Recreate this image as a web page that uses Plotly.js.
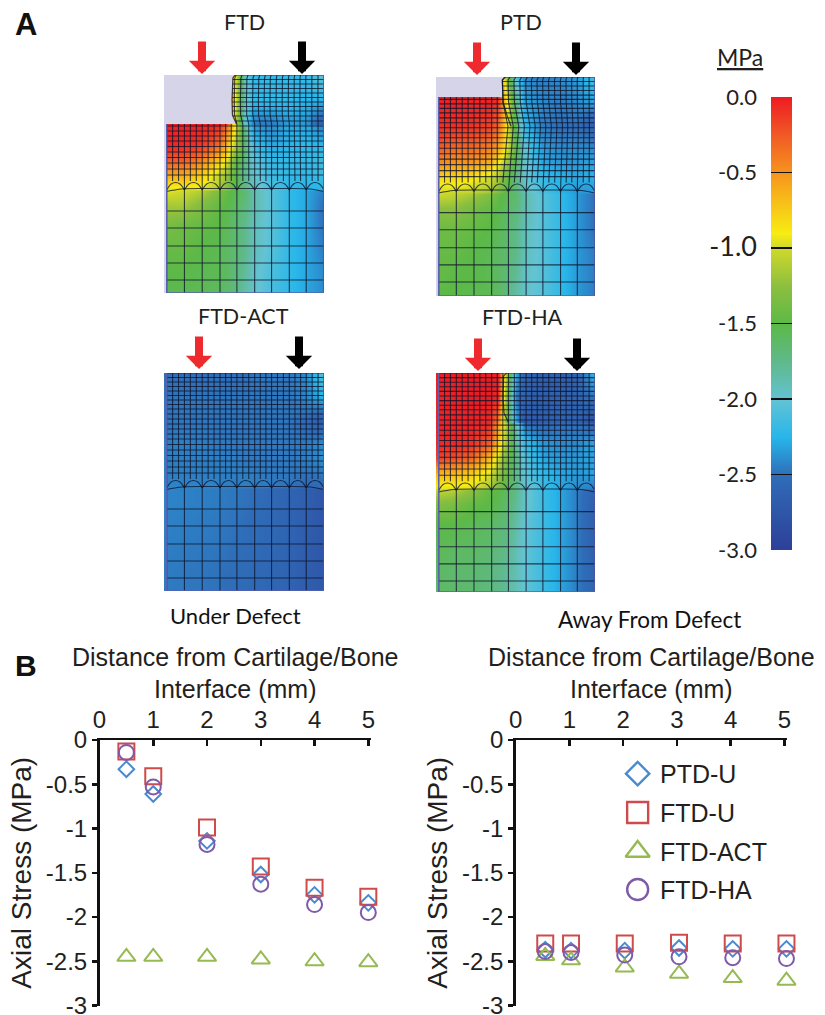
<!DOCTYPE html>
<html>
<head>
<meta charset="utf-8">
<script src="https://cdn.plot.ly/plotly-3.0.1.min.js"></script>
<style>html,body{margin:0;padding:0;background:#fff}#chart{width:825px;height:1015px}</style>
</head>
<body>
<div id="chart"></div>
<script>
// ---------- Panel B data ----------
const distLeft = [0.5, 1, 2, 3, 4, 5];
const distRight = [0.55, 1.03, 2.03, 3.04, 4.04, 5.04];
const ptdUnder = [-0.33, -0.61, -1.14, -1.52, -1.75, -1.84];
const ftdUnder = [-0.13, -0.41, -0.99, -1.43, -1.67, -1.77];
const actUnder = [-2.45, -2.45, -2.45, -2.48, -2.50, -2.51];
const haUnder = [-0.14, -0.53, -1.18, -1.63, -1.86, -1.95];
const ptdAway = [-2.37, -2.38, -2.38, -2.35, -2.36, -2.36];
const ftdAway = [-2.30, -2.30, -2.30, -2.29, -2.30, -2.30];
const actAway = [-2.44, -2.49, -2.57, -2.64, -2.69, -2.72];
const haAway = [-2.39, -2.40, -2.43, -2.45, -2.46, -2.47];
const seriesNames = ['PTD-U', 'FTD-U', 'FTD-ACT', 'FTD-HA'];
const legendY = [-0.38, -0.82, -1.26, -1.69];
const stressTicks = [0, -0.5, -1, -1.5, -2, -2.5, -3];
const stressLabels = ['0', '-0.5', '-1', '-1.5', '-2', '-2.5', '-3'];
const distTicks = [0, 1, 2, 3, 4, 5];

// ---------- Panel A stress fields (MPa), rows by depth, columns by lateral position ----------
const fieldX = [0.3, 2, 4, 6, 7, 8, 9, 10, 12, 14, 16, 18];
const fieldDepth = [0, 25, 49, 50, 70, 85, 100, 114, 116, 130, 150, 175, 200, 218];
const fieldFTD = [
  [0,0,0,0,0,-0.9,-1.9,-2.2,-2.2,-2.2,-2.2,-2.0],
  [0,0,0,0,0,-0.9,-1.85,-2.2,-2.2,-2.2,-2.25,-2.25],
  [-0.02,-0.02,-0.02,-0.03,-0.1,-1.0,-1.95,-2.45,-2.45,-2.35,-2.35,-2.7],
  [-0.02,-0.02,-0.02,-0.05,-0.3,-0.9,-1.7,-2.35,-2.4,-2.3,-2.3,-2.45],
  [-0.03,-0.05,-0.1,-0.3,-0.6,-1.1,-1.6,-2.15,-2.3,-2.25,-2.2,-2.25],
  [-0.25,-0.25,-0.4,-0.7,-0.9,-1.4,-1.7,-2.0,-2.2,-2.2,-2.2,-2.15],
  [-0.6,-0.6,-0.75,-1.0,-1.2,-1.5,-1.75,-1.95,-2.15,-2.2,-2.2,-2.15],
  [-0.95,-0.95,-0.95,-1.1,-1.3,-1.5,-1.7,-1.9,-2.1,-2.2,-2.25,-2.25],
  [-0.95,-1.0,-1.1,-1.3,-1.45,-1.55,-1.65,-1.85,-2.05,-2.2,-2.3,-2.45],
  [-1.15,-1.15,-1.3,-1.45,-1.5,-1.6,-1.7,-1.85,-2.05,-2.2,-2.3,-2.5],
  [-1.35,-1.4,-1.45,-1.5,-1.55,-1.65,-1.75,-1.9,-2.05,-2.2,-2.3,-2.5],
  [-1.45,-1.45,-1.5,-1.55,-1.6,-1.65,-1.75,-1.9,-2.05,-2.2,-2.3,-2.45],
  [-1.5,-1.5,-1.55,-1.55,-1.6,-1.7,-1.8,-1.95,-2.1,-2.2,-2.3,-2.4],
  [-1.55,-1.55,-1.55,-1.6,-1.65,-1.7,-1.85,-1.95,-2.1,-2.2,-2.3,-2.4]
];
const fieldPTD = [
  [0,0,0,0,0,-1.3,-2.1,-2.4,-2.45,-2.4,-2.35,-2.1],
  [-0.02,-0.02,-0.03,-0.03,-0.1,-0.9,-1.7,-2.3,-2.4,-2.45,-2.4,-2.3],
  [-0.08,-0.08,-0.1,-0.15,-0.3,-0.9,-1.6,-2.2,-2.45,-2.5,-2.5,-2.7],
  [-0.08,-0.08,-0.1,-0.15,-0.3,-0.9,-1.6,-2.2,-2.45,-2.5,-2.5,-2.6],
  [-0.25,-0.3,-0.3,-0.4,-0.55,-0.95,-1.5,-2.0,-2.35,-2.4,-2.4,-2.4],
  [-0.45,-0.5,-0.5,-0.6,-0.85,-1.2,-1.6,-1.95,-2.3,-2.35,-2.35,-2.3],
  [-0.8,-0.8,-0.85,-1.0,-1.15,-1.45,-1.7,-1.95,-2.2,-2.25,-2.3,-2.25],
  [-1.0,-1.0,-1.05,-1.15,-1.3,-1.5,-1.7,-1.9,-2.1,-2.25,-2.35,-2.35],
  [-1.0,-1.05,-1.15,-1.3,-1.45,-1.55,-1.65,-1.85,-2.05,-2.2,-2.35,-2.5],
  [-1.25,-1.25,-1.35,-1.45,-1.5,-1.6,-1.7,-1.85,-2.05,-2.2,-2.35,-2.5],
  [-1.4,-1.4,-1.45,-1.5,-1.55,-1.65,-1.75,-1.9,-2.05,-2.2,-2.35,-2.5],
  [-1.45,-1.45,-1.5,-1.55,-1.6,-1.65,-1.75,-1.9,-2.05,-2.2,-2.35,-2.45],
  [-1.45,-1.5,-1.5,-1.55,-1.6,-1.7,-1.8,-1.95,-2.05,-2.2,-2.35,-2.45],
  [-1.5,-1.5,-1.55,-1.55,-1.6,-1.7,-1.85,-1.95,-2.05,-2.2,-2.35,-2.45]
];
const fieldACT = [
  [-2.5,-2.5,-2.5,-2.5,-2.5,-2.5,-2.5,-2.47,-2.47,-2.47,-2.4,-2.05],
  [-2.47,-2.47,-2.47,-2.47,-2.47,-2.47,-2.47,-2.47,-2.47,-2.47,-2.42,-2.25],
  [-2.47,-2.47,-2.47,-2.47,-2.47,-2.47,-2.47,-2.47,-2.47,-2.47,-2.52,-2.72],
  [-2.47,-2.47,-2.47,-2.47,-2.47,-2.47,-2.47,-2.47,-2.47,-2.47,-2.52,-2.65],
  [-2.44,-2.44,-2.44,-2.46,-2.46,-2.46,-2.46,-2.46,-2.46,-2.46,-2.46,-2.38],
  [-2.44,-2.44,-2.44,-2.44,-2.44,-2.44,-2.46,-2.46,-2.46,-2.46,-2.44,-2.38],
  [-2.44,-2.44,-2.44,-2.44,-2.44,-2.44,-2.44,-2.44,-2.46,-2.46,-2.48,-2.45],
  [-2.42,-2.42,-2.42,-2.42,-2.44,-2.44,-2.44,-2.44,-2.46,-2.48,-2.52,-2.55],
  [-2.42,-2.43,-2.44,-2.45,-2.46,-2.47,-2.48,-2.5,-2.55,-2.6,-2.65,-2.75],
  [-2.42,-2.43,-2.44,-2.45,-2.46,-2.47,-2.48,-2.5,-2.55,-2.6,-2.65,-2.75],
  [-2.43,-2.44,-2.45,-2.46,-2.47,-2.48,-2.5,-2.52,-2.55,-2.6,-2.67,-2.75],
  [-2.44,-2.45,-2.46,-2.47,-2.48,-2.5,-2.5,-2.52,-2.55,-2.6,-2.67,-2.75],
  [-2.45,-2.46,-2.47,-2.48,-2.5,-2.5,-2.52,-2.54,-2.57,-2.6,-2.67,-2.72],
  [-2.45,-2.46,-2.47,-2.48,-2.5,-2.5,-2.52,-2.54,-2.57,-2.6,-2.67,-2.72]
];
const fieldHA = [
  [0,0,0,0,-0.02,-1.2,-2.3,-2.6,-2.65,-2.65,-2.6,-2.2],
  [-0.02,-0.02,0,0,-0.05,-1.4,-2.45,-2.6,-2.65,-2.6,-2.6,-2.45],
  [-0.02,-0.02,-0.02,-0.05,-0.4,-1.4,-2.3,-2.7,-2.65,-2.6,-2.6,-2.85],
  [-0.02,-0.02,-0.02,-0.05,-0.5,-1.2,-1.9,-2.5,-2.55,-2.5,-2.5,-2.6],
  [-0.05,-0.05,-0.08,-0.25,-0.7,-1.25,-1.8,-2.15,-2.35,-2.4,-2.4,-2.3],
  [-0.15,-0.2,-0.3,-0.65,-1.0,-1.4,-1.7,-2.05,-2.3,-2.35,-2.35,-2.3],
  [-0.65,-0.65,-0.75,-0.95,-1.2,-1.45,-1.75,-2.0,-2.2,-2.3,-2.35,-2.3],
  [-0.95,-0.95,-0.95,-1.15,-1.35,-1.5,-1.75,-1.95,-2.15,-2.3,-2.4,-2.45],
  [-1.05,-1.1,-1.25,-1.45,-1.5,-1.6,-1.75,-1.95,-2.15,-2.3,-2.45,-2.6],
  [-1.3,-1.35,-1.45,-1.5,-1.55,-1.65,-1.8,-1.95,-2.15,-2.3,-2.45,-2.65],
  [-1.5,-1.5,-1.55,-1.6,-1.65,-1.7,-1.85,-2.0,-2.15,-2.3,-2.45,-2.65],
  [-1.55,-1.6,-1.6,-1.65,-1.7,-1.75,-1.9,-2.0,-2.15,-2.3,-2.45,-2.65],
  [-1.6,-1.65,-1.65,-1.7,-1.75,-1.8,-1.9,-2.0,-2.15,-2.3,-2.45,-2.6],
  [-1.6,-1.65,-1.65,-1.7,-1.75,-1.8,-1.9,-2.0,-2.15,-2.3,-2.45,-2.6]
];

// ---------- Colour scale ----------
const scaleValues = [-3, -2.5, -2.25, -2.0, -1.75, -1.5, -1.25, -1.0, -0.9, -0.5, -0.25, 0];
const scaleColors = ['#2e3f98', '#2f6db8', '#27b6ea', '#63c3d3', '#5fb98a', '#5cb947', '#8cbf3f', '#cfd92a', '#f7ec13', '#f7941d', '#f15a25', '#ed1c24'];
const barValues = [-3,-2.875,-2.75,-2.625,-2.5,-2.375,-2.25,-2.125,-2,-1.875,-1.75,-1.625,-1.5,-1.375,-1.25,-1.125,-1,-0.9,-0.75,-0.625,-0.5,-0.375,-0.25,-0.125,0];
const barTicks = [0, -0.5, -1, -1.5, -2, -2.5, -3];
const barLabels = ['0.0', '-0.5', '<span style="font-size:27px">-1.0</span>', '-1.5', '-2.0', '-2.5', '-3.0'];

// ---------- Mesh geometry ----------
const boneCols = [0.3, 2.3, 4.3, 6.3, 8.2, 10.2, 12.1, 14.1, 16, 18];
const cartilageRows = [0,4.5,9,13.5,18,22.5,27,31.5,36,41,46,51,56,61,66,71.5,77,82.5,88,94,100];
const boneRowOffsets = [21, 38, 56, 73, 90];

// ---------- Panel placement (pixels) and names ----------
const panelNames = ['FTD', 'PTD', 'FTD-ACT', 'FTD-HA'];
const panelBox = [[164,324,75,293],[436,595,77,296],[164,324,373,591],[436,595,373,592]];
const panelFields = [fieldFTD, fieldPTD, fieldACT, fieldHA];
const panelInterface = [115, 114, 115, 117];
const panelFloor = [49, 20, 0, 0];
const wallDepths = [0, 3, 25, 40, 49];
const panelWall = [[8.0,7.75,7.65,7.7,8.15],[7.9,7.5,7.6,8.1,8.5],[8.2,8.2,8.2,8.2,8.2],[8.0,7.65,7.6,7.7,8.2]];
const titleCentre = [[244,22],[521,22],[243,316],[522,317]];
const redArrow = [[202,74],[477,75],[199,369],[478,371]];
const blackArrow = [[302,74],[576,75],[299,369],[577,371]];

const W = 825, H = 1015;
const fx = p => p / W, fy = p => 1 - p / H;
const colorscale = scaleValues.map((v, i) => [(v + 3) / 3, scaleColors[i]]);

function wallAt(i, d) {
  const w = panelWall[i];
  for (let k = 1; k < wallDepths.length; k++) {
    if (d <= wallDepths[k]) {
      const t = (d - wallDepths[k-1]) / (wallDepths[k] - wallDepths[k-1]);
      return w[k-1] + t * (w[k] - w[k-1]);
    }
  }
  return w[w.length-1];
}
function cartilageCols() {
  const out = [];
  for (let k = 0; k < boneCols.length - 1; k++) {
    const a = boneCols[k], b = boneCols[k+1];
    out.push(a, a + (b-a)/3, a + 2*(b-a)/3);
  }
  out.push(boneCols[boneCols.length-1]);
  return out;
}

const traces = [];
const annotations = [];
const layout = {
  width: W, height: H,
  margin: {l:0, r:0, t:0, b:0},
  paper_bgcolor: '#fff', plot_bgcolor: 'rgba(0,0,0,0)',
  showlegend: false,
  font: {family: 'Liberation Sans, Arial, sans-serif', color: '#231f20'},
  annotations
};

const meshColor = 'rgba(14,20,42,0.78)';
panelNames.forEach((name, i) => {
  const ax = i + 1;
  const xk = 'xaxis' + (ax === 1 ? '' : ax), yk = 'yaxis' + (ax === 1 ? '' : ax);
  const xa = ax === 1 ? 'x' : 'x' + ax, ya = ax === 1 ? 'y' : 'y' + ax;
  const [x0, x1, y0, y1] = panelBox[i];
  layout[xk] = {domain: [fx(x0), fx(x1)], range: [0, 18], visible: false, anchor: ya, fixedrange: true};
  layout[yk] = {domain: [fy(y1), fy(y0)], range: [218, 0], visible: false, anchor: xa, fixedrange: true};

  traces.push({type: 'heatmap', x: fieldX, y: fieldDepth, z: panelFields[i], zmin: -3, zmax: 0,
    colorscale, zsmooth: 'best', showscale: false, xaxis: xa, yaxis: ya, hoverinfo: 'skip'});

  // defect cavity
  const floor = panelFloor[i];
  if (floor > 0) {
    const dx = [0], dy = [0];
    wallDepths.filter(d => d <= floor).forEach(d => { dx.push(wallAt(i, d)); dy.push(d); });
    dx.push(wallAt(i, floor), 0.3, 0.3, 0, 0);
    dy.push(floor, floor, 218, 218, 0);
    traces.push({type: 'scatter', mode: 'lines', x: dx, y: dy, fill: 'toself', fillcolor: '#d6d4e9',
      line: {width: 0, color: '#d6d4e9'}, xaxis: xa, yaxis: ya, hoverinfo: 'skip'});
  }

  // straight mesh lines
  const iface = panelInterface[i];
  const mx = [], my = [];
  const lastRow = cartilageRows[cartilageRows.length - 1];
  cartilageRows.forEach(d => {
    if (d < floor) return;
    mx.push(0.3, 18, null); my.push(d * iface / 115, d * iface / 115, null);
  });
  cartilageRows.filter(d => d < floor).forEach(d => {
    mx.push(wallAt(i, d), 18, null); my.push(d, d, null);
  });
  cartilageCols().forEach((c, k) => {
    const isNode = k % 3 === 0;
    const bottom = isNode ? iface : lastRow * iface / 115 + 6;
    if (c < wallAt(i, floor) - 0.2) {
      mx.push(c, c, null); my.push(floor, bottom, null);
    } else {
      const shift = floor > 0 ? (18 - c) / 10 : 0;
      const xs = wallDepths.map(d => c + shift * (wallAt(i, d) - wallAt(i, floor)) * 0.6);
      xs.forEach((v, n) => { mx.push(v); my.push(wallDepths[n]); });
      mx.push(c, null); my.push(bottom, null);
    }
  });
  boneCols.forEach(c => { mx.push(c, c, null); my.push(iface, 218, null); });
  boneRowOffsets.forEach(o => { mx.push(0.3, 18, null); my.push(iface + o, iface + o, null); });
  traces.push({type: 'scatter', mode: 'lines', x: mx, y: my, line: {color: meshColor, width: 1.1},
    xaxis: xa, yaxis: ya, hoverinfo: 'skip', cliponaxis: true});

  // transition scallops at the cartilage / bone interface
  const sx = [], sy = [];
  for (let k = 0; k < boneCols.length - 1; k++) {
    const a = boneCols[k], b = boneCols[k+1], w = b - a;
    sx.push(a, a + 0.25*w, a + 0.5*w, a + 0.75*w, b, null);
    sy.push(iface, iface - 6, iface - 7.5, iface - 6, iface, null);
  }
  traces.push({type: 'scatter', mode: 'lines', x: sx, y: sy, connectgaps: false,
    line: {color: meshColor, width: 1.1, shape: 'spline'}, xaxis: xa, yaxis: ya, hoverinfo: 'skip'});
  traces.push({type: 'scatter', mode: 'lines', x: [0.3, 2, 5, 9, 13, 16.5, 18], y: [iface+1.5, iface-1, iface-1.5, iface-1.5, iface-1.5, iface-1, iface+1.5],
    line: {color: meshColor, width: 1.1, shape: 'spline'}, xaxis: xa, yaxis: ya, hoverinfo: 'skip'});

  // wall boundary
  const wallRows = wallDepths.filter(d => d <= 49);
  if (i !== 2) {
    traces.push({type: 'scatter', mode: 'lines', x: wallRows.map(d => wallAt(i, d)), y: wallRows,
      line: {color: meshColor, width: 1.2}, xaxis: xa, yaxis: ya, hoverinfo: 'skip'});
  }
  // outer frame
  traces.push({type: 'scatter', mode: 'lines', x: [0.3, 0.3, null, 0.3, 18, null, 18, 18], y: [floor, 218, null, 218, 218, null, 0, 218],
    line: {color: '#5a62b0', width: 1.4}, xaxis: xa, yaxis: ya, hoverinfo: 'skip'});

  // title and arrows
  annotations.push({xref: 'paper', yref: 'paper', x: fx(titleCentre[i][0]), y: fy(titleCentre[i][1]), text: name,
    showarrow: false, xanchor: 'center', yanchor: 'middle', font: {family: 'Lato, Carlito, sans-serif', size: 21.5, color: '#231f20'}});
  [[redArrow[i], '#ee2a2e'], [blackArrow[i], '#000000']].forEach(([p, c]) => {
    annotations.push({xref: 'paper', yref: 'paper', x: fx(p[0]), y: fy(p[1]), text: '', showarrow: true,
      axref: 'pixel', ayref: 'pixel', ax: 0, ay: -34, arrowcolor: c, arrowwidth: 8, arrowhead: 1, arrowsize: 0.55, standoff: 0});
  });
});

// colour bar
layout.xaxis5 = {domain: [fx(771), fx(792)], range: [0, 1], visible: false, anchor: 'y5', fixedrange: true};
layout.yaxis5 = {domain: [fy(550), fy(97)], range: [-3, 0], anchor: 'x5', side: 'left', tickmode: 'array',
  tickvals: barTicks, ticktext: barLabels, ticks: 'inside', ticklen: 21, tickwidth: 1.6, tickcolor: '#111',
  ticklabelstandoff: 13, showgrid: false, zeroline: false, showline: false, fixedrange: true,
  tickfont: {family: 'Lato, Carlito, sans-serif', size: 22, color: '#231f20'}};
traces.push({type: 'heatmap', x: [0, 1], y: barValues, z: barValues.map(v => [v, v]), zmin: -3, zmax: 0,
  colorscale, zsmooth: 'best', showscale: false, xaxis: 'x5', yaxis: 'y5', hoverinfo: 'skip'});
annotations.push({xref: 'paper', yref: 'paper', x: fx(740), y: fy(57), text: '<u>MPa</u>', showarrow: false,
  xanchor: 'center', yanchor: 'middle', font: {family: 'Lato, Carlito, sans-serif', size: 23, color: '#231f20'}});

// scatter plots
const axisTitle = 'Distance from Cartilage/Bone<br>Interface (mm)';
function stressAxes(xk, yk, xa, ya, left, right) {
  layout[xk] = {domain: [fx(left), fx(right)], range: [0, 5.05], side: 'top', anchor: ya, tickmode: 'array', tickvals: distTicks,
    ticks: 'inside', ticklen: 6, tickwidth: 2.5, tickcolor: '#111', showline: true, linewidth: 2.5, linecolor: '#111',
    showgrid: false, zeroline: false, fixedrange: true, tickfont: {size: 24, color: '#231f20'},
    title: {text: axisTitle, font: {size: 25, color: '#231f20'}, standoff: 0}};
  layout[yk] = {domain: [fy(1005.5), fy(740)], range: [-3, 0], anchor: xa, tickmode: 'array', tickvals: stressTicks, ticktext: stressLabels,
    ticks: 'outside', ticklen: 5, tickwidth: 2.5, tickcolor: '#111', showline: true, linewidth: 2.5, linecolor: '#111',
    showgrid: false, zeroline: false, fixedrange: true, tickfont: {size: 24, color: '#231f20'}, ticklabeloverflow: 'allow',
    title: {text: 'Axial Stress (MPa)', font: {size: 28, color: '#231f20'}, standoff: 6}};
}
stressAxes('xaxis6', 'yaxis6', 'x6', 'y6', 99.5, 371);
stressAxes('xaxis7', 'yaxis7', 'x7', 'y7', 515.7, 787);

const styles = [
  {symbol: 'diamond-open', size: 12, color: '#4a8ad0'},
  {symbol: 'square-open', size: 16, color: '#cf4b4b'},
  {symbol: 'triangle-up-open', size: 16, color: '#96ba52'},
  {symbol: 'circle-open', size: 15, color: '#7e5aa8'}
];
const legendStyles = [18, 21, 21, 21];
function addSeries(x, series, xa, ya) {
  series.forEach((y, i) => {
    traces.push({type: 'scatter', mode: 'markers', name: seriesNames[i], x, y, xaxis: xa, yaxis: ya, cliponaxis: false,
      marker: {symbol: styles[i].symbol, size: styles[i].size, color: styles[i].color, line: {width: 2, color: styles[i].color}}});
  });
}
addSeries(distLeft, [ptdUnder, ftdUnder, actUnder, haUnder], 'x6', 'y6');
addSeries(distRight, [ptdAway, ftdAway, actAway, haAway], 'x7', 'y7');
seriesNames.forEach((n, i) => {
  traces.push({type: 'scatter', mode: 'markers', x: [2.27], y: [legendY[i]], xaxis: 'x7', yaxis: 'y7', hoverinfo: 'skip',
    marker: {symbol: styles[i].symbol, size: legendStyles[i], color: styles[i].color, line: {width: 2.4, color: styles[i].color}}});
  annotations.push({xref: 'x7', yref: 'y7', x: 2.65, y: legendY[i], text: n, showarrow: false, xanchor: 'left', yanchor: 'middle',
    font: {size: 25, color: '#231f20'}});
});

// free text
[['A', 26, 25, 'Liberation Sans', 31, true], ['B', 26, 665, 'Liberation Sans', 30, true],
 ['Under Defect', 235, 615, 'Lato, Carlito, sans-serif', 22, false], ['Away From Defect', 649, 619, 'Lato, Carlito, sans-serif', 22.5, false]]
  .forEach(([t, x, y, f, s, b]) => {
    annotations.push({xref: 'paper', yref: 'paper', x: fx(x), y: fy(y), text: b ? '<b>' + t + '</b>' : t, showarrow: false,
      xanchor: 'center', yanchor: 'middle', font: {family: f, size: s, color: '#111'}});
  });

Plotly.newPlot('chart', traces, layout, {displayModeBar: false, staticPlot: true});
</script>
</body>
</html>
